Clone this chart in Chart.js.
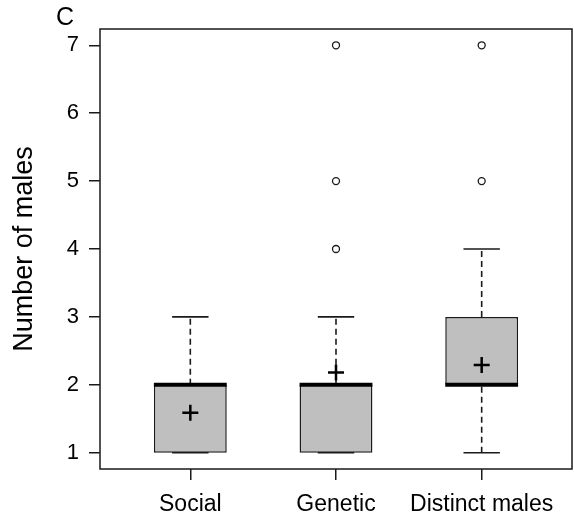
<!DOCTYPE html>
<html><head><meta charset="utf-8">
<script src="https://cdn.jsdelivr.net/npm/chart.js@4"></script>
<style>html,body{margin:0;padding:0;background:#fff}#wrap{width:574px;height:524px}</style>
</head><body><div id="wrap"><canvas id="c" width="574" height="524"></canvas></div>
<script>
const categories = ['Social', 'Genetic', 'Distinct males'];
const whiskerLow = [1, 1, 1];
const q1 = [1, 1, 2];
const median = [2, 2, 2];
const q3 = [2, 2, 3];
const whiskerHigh = [3, 3, 4];
const means = [1.59, 2.18, 2.29];
const outliers = [[], [4, 5, 7], [5, 7]];
const yTicks = [1, 2, 3, 4, 5, 6, 7];
const panelLabel = 'C';
const yTitle = 'Number of males';

const INK = '#1a1a1a';
const datasets = [];

// boxes
datasets.push({
  type: 'bar',
  data: categories.map((c, i) => ({x: i + 1, y: [q1[i], q3[i]]})),
  backgroundColor: '#bfbfbf',
  borderColor: INK,
  borderWidth: 1.5,
  borderSkipped: false,
  barPercentage: 0.5,
  categoryPercentage: 1,
  order: 5
});

const lineDefaults = {type: 'line', pointRadius: 0, fill: false, tension: 0, borderColor: INK};
categories.forEach((c, i) => {
  const x = i + 1;
  if (whiskerHigh[i] > q3[i]) datasets.push(Object.assign({}, lineDefaults, {
    data: [{x, y: q3[i]}, {x, y: whiskerHigh[i]}], borderWidth: 1.6, borderDash: [6, 4], order: 8}));
  if (whiskerLow[i] < q1[i]) datasets.push(Object.assign({}, lineDefaults, {
    data: [{x, y: whiskerLow[i]}, {x, y: q1[i]}], borderWidth: 1.6, borderDash: [6, 4], order: 8}));
  [whiskerLow[i], whiskerHigh[i]].forEach(v => datasets.push(Object.assign({}, lineDefaults, {
    data: [{x: x - 0.125, y: v}, {x: x + 0.125, y: v}], borderWidth: 1.6, order: 7})));
  datasets.push(Object.assign({}, lineDefaults, {
    data: [{x: x - 0.25, y: median[i]}, {x: x + 0.25, y: median[i]}], borderWidth: 4, borderColor: '#000', borderCapStyle: 'butt', order: 1}));
});

datasets.push({
  type: 'scatter',
  data: means.map((m, i) => ({x: i + 1, y: m})),
  pointStyle: 'cross', pointRadius: 8, borderWidth: 2.5, borderColor: '#000', order: 0
});
datasets.push({
  type: 'scatter',
  data: outliers.flatMap((arr, i) => arr.map(v => ({x: i + 1, y: v}))),
  pointStyle: 'circle', pointRadius: 3.5, borderWidth: 1.3, borderColor: INK, backgroundColor: '#fff', order: 0
});

const framePlugin = {
  id: 'frame',
  beforeDatasetsDraw(chart) {
    const {ctx, chartArea: a} = chart;
    ctx.save();
    ctx.strokeStyle = INK; ctx.lineWidth = 1.5;
    ctx.strokeRect(a.left, a.top, a.right - a.left, a.bottom - a.top);
    ctx.restore();
  },
  afterDraw(chart) {
    const {ctx, chartArea: a} = chart;
    ctx.save();
    ctx.fillStyle = '#000';
    ctx.font = '25px "Liberation Sans", Arial, sans-serif';
    ctx.textAlign = 'left'; ctx.textBaseline = 'alphabetic';
    ctx.fillText(panelLabel, a.left - 44, a.top - 4);
    ctx.restore();
  }
};

new Chart(document.getElementById('c'), {
  type: 'bar',
  data: {datasets},
  plugins: [framePlugin],
  options: {
    responsive: false, animation: false,
    layout: {autoPadding: false, padding: {top: 29, right: 2, left: 0, bottom: 0}},
    plugins: {legend: {display: false}, tooltip: {enabled: false}},
    scales: {
      x: {
        type: 'linear', min: 0.38, max: 3.62, offset: false,
        afterBuildTicks: s => { s.ticks = [1, 2, 3].map(v => ({value: v})); },
        afterFit: s => { s.height = 55; s.paddingLeft = 0; s.paddingRight = 0; },
        ticks: {callback: v => categories[v - 1], color: '#000', padding: 11, autoSkip: false, maxRotation: 0,
          font: {family: '"Liberation Sans", Arial, sans-serif', size: 23}},
        grid: {offset: false, drawOnChartArea: false, drawTicks: true, tickLength: 11, color: INK, lineWidth: 1.5},
        border: {display: false}
      },
      y: {
        type: 'linear', min: 0.76, max: 7.24,
        afterBuildTicks: s => { s.ticks = yTicks.map(v => ({value: v})); },
        afterFit: s => { s.width = 100; s.paddingTop = 0; s.paddingBottom = 0; },
        ticks: {callback: v => String(v), color: '#000', padding: 10,
          font: {family: '"Liberation Sans", Arial, sans-serif', size: 22}},
        grid: {drawOnChartArea: false, drawTicks: true, tickLength: 11, color: INK, lineWidth: 1.5},
        border: {display: false},
        title: {display: true, text: yTitle, color: '#000', padding: {top: 8, bottom: 0},
          font: {family: '"Liberation Sans", Arial, sans-serif', size: 27}}
      }
    }
  }
});
</script>
</body></html>
